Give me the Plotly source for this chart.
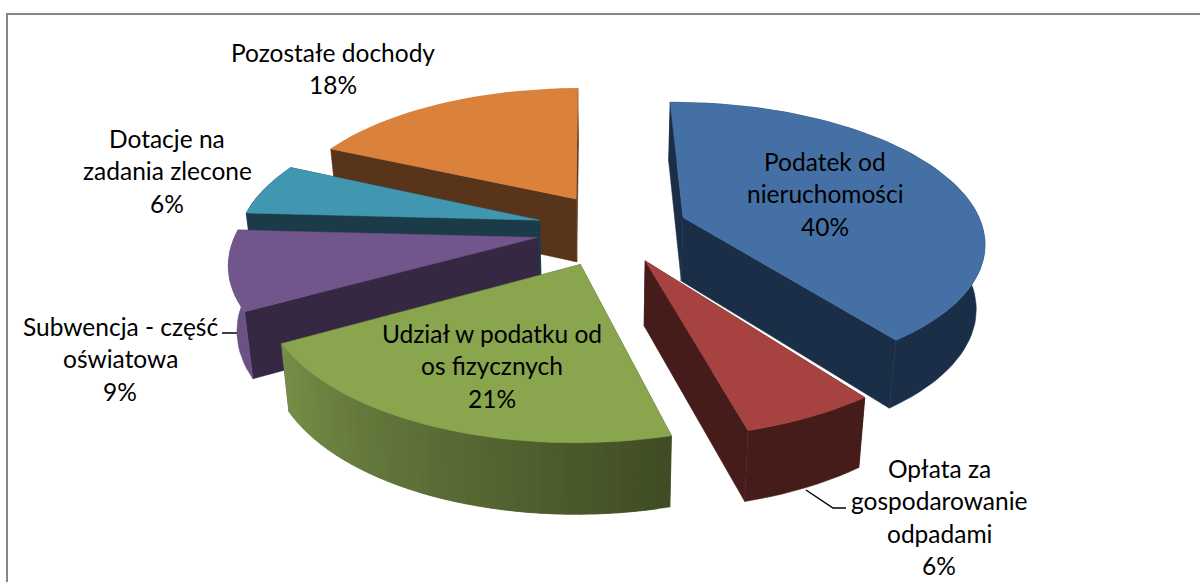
import math
import plotly.graph_objects as go

# ---- data ----
categories = ["Podatek od nieruchomości", "Opłata za gospodarowanie odpadami",
              "Udział w podatku od os fizycznych", "Subwencja - część oświatowa",
              "Dotacje na zadania zlecone", "Pozostałe dochody"]
values = [40, 6, 21, 9, 6, 18]
label_lines = [["Podatek od", "nieruchomości"],
               ["Opłata za", "gospodarowanie", "odpadami"],
               ["Udział w podatku od", "os fizycznych"],
               ["Subwencja - część", "oświatowa"],
               ["Dotacje na", "zadania zlecone"],
               ["Pozostałe dochody"]]

# ---- styling ----
top_colors = ["#4470A5", "#A64340", "#89A54E", "#70568C", "#4197AF", "#DA813C"]
cut_colors = ["#1A2E47", "#451C1A", "#3F4C23", "#362842", "#1A3B47", "#58341A"]
rim_start = ["#1A2E47", "#451C1A", "#3F4C23", "#6A5285", "#1A3B47", "#C07A3C"]
rim_end = ["#1A2E47", "#451C1A", "#768E48", "#6A5285", "#3A8398", "#C07A3C"]
label_pos = [(825, 161), (939, 468), (492, 333), (120, 326), (167, 138), (333, 52)]
pull_x = [1.03, 1.1, 0.75, 0.85, 0.84, 0.68]
pull_y = [1.0, 0.92, 1.0, 1.0, 1.0, 1.0]
draw_order = [5, 4, 3, 0, 1, 2]
FONT = "Lato"
FSIZE = 24.5
LINE_STEP = 32.5

START = -0.5
EXPLODE = 0.27
CX, CY = 605, 229
A, B, K = 300, 137, 0.16
DEPTH, SHRINK = 64, 0.977


def hex_mix(c1, c2, t):
    a = [int(c1[i:i + 2], 16) for i in (1, 3, 5)]
    b = [int(c2[i:i + 2], 16) for i in (1, 3, 5)]
    return "#%02X%02X%02X" % tuple(round(p + (q - p) * t) for p, q in zip(a, b))


def project(px, py):
    s = 1 / (1 + K * py)
    return CX + A * px * s, CY - B * py * s, s


def low_pt(p):
    return CX + (p[0] - CX) * SHRINK, p[1] + DEPTH * math.sqrt(p[2])


def poly(fig, pts, color, name):
    xs = [p[0] for p in pts] + [pts[0][0]]
    ys = [p[1] for p in pts] + [pts[0][1]]
    fig.add_trace(go.Scatter(x=xs, y=ys, mode="lines", fill="toself", fillcolor=color,
                             line=dict(color=color, width=0.5), hoverinfo="text",
                             text=name, showlegend=False))


def rim_band(fig, angs, rim, i, name):
    """Outer wall for the given rim points: a strip, or overlapping bands for a gradient."""
    n = len(rim) - 1
    if n < 1:
        return
    if rim_start[i] == rim_end[i]:
        poly(fig, [r[:2] for r in rim] + [low_pt(r) for r in reversed(rim)], rim_start[i], name)
        return
    a0, a1 = spans[i]
    for j in range(n):
        p, q = rim[j], rim[min(j + 2, n)]
        t = ((angs[j] + angs[j + 1]) / 2 - a0) / (a1 - a0)
        poly(fig, [p[:2], q[:2], low_pt(q), low_pt(p)],
             hex_mix(rim_start[i], rim_end[i], t), name)


fig = go.Figure()
total = sum(values)
spans = []
acc = START
for v in values:
    spans.append((acc, acc + 360 * v / total))
    acc += 360 * v / total

for i in draw_order:
    a0, a1 = spans[i]
    mid = math.radians((a0 + a1) / 2)
    ex = EXPLODE * pull_x[i] * math.sin(mid)
    ey = EXPLODE * pull_y[i] * math.cos(mid)
    apex = project(ex, ey)
    name = f"{categories[i]}: {values[i]}%"
    n = max(8, int((a1 - a0) / 2))
    angs = [a0 + (a1 - a0) * j / n for j in range(n + 1)]
    rim = [project(ex + math.sin(math.radians(d)), ey + math.cos(math.radians(d))) for d in angs]
    back = [j for j, d in enumerate(angs) if math.cos(math.radians(d)) > 0]
    front = [j for j, d in enumerate(angs) if math.cos(math.radians(d)) <= 0]
    if back and front:  # keep the two wall sections joined
        if back[-1] + 1 == front[0]:
            front = [back[-1]] + front
        elif front[-1] + 1 == back[0]:
            back = [front[-1]] + back
    # back-facing wall, then the two cut faces, then the front-facing wall, then the top
    if back:
        rim_band(fig, [angs[j] for j in back], [rim[j] for j in back], i, name)
    for end in (rim[0], rim[-1]):
        poly(fig, [apex[:2], end[:2], low_pt(end), low_pt(apex)], cut_colors[i], name)
    if front:
        rim_band(fig, [angs[j] for j in front], [rim[j] for j in front], i, name)
    poly(fig, [apex[:2]] + [r[:2] for r in rim], top_colors[i], name)

for i, (x, y) in enumerate(label_pos):
    lines = label_lines[i] + [f"{values[i]}%"]
    for j, line in enumerate(lines):
        fig.add_annotation(x=x, y=y + j * LINE_STEP, text=line, showarrow=False,
                           xanchor="center", yanchor="middle",
                           font=dict(family=FONT, size=FSIZE, color="#000000"))

fig.add_shape(type="rect", x0=7, x1=1240, y0=14, y1=640,
              line=dict(color="#868686", width=2), layer="below")
fig.add_shape(type="line", x0=222, x1=243, y0=333, y1=333, line=dict(color="#000000", width=1.5),
              layer="below")
fig.add_shape(type="path", path="M 806 490 L 833 508 L 846 508", line=dict(color="#000000", width=1.5),
              layer="below")

fig.update_xaxes(range=[0, 1200], visible=False, fixedrange=True)
fig.update_yaxes(range=[582, 0], visible=False, fixedrange=True)
fig.update_layout(width=1200, height=582, autosize=False,
                  margin=dict(l=0, r=0, t=0, b=0),
                  paper_bgcolor="#FFFFFF", plot_bgcolor="#FFFFFF", showlegend=False)
fig.write_html("out.html", config={"displayModeBar": False},
               post_script="document.body.style.margin='0';document.body.style.overflow='hidden';")
